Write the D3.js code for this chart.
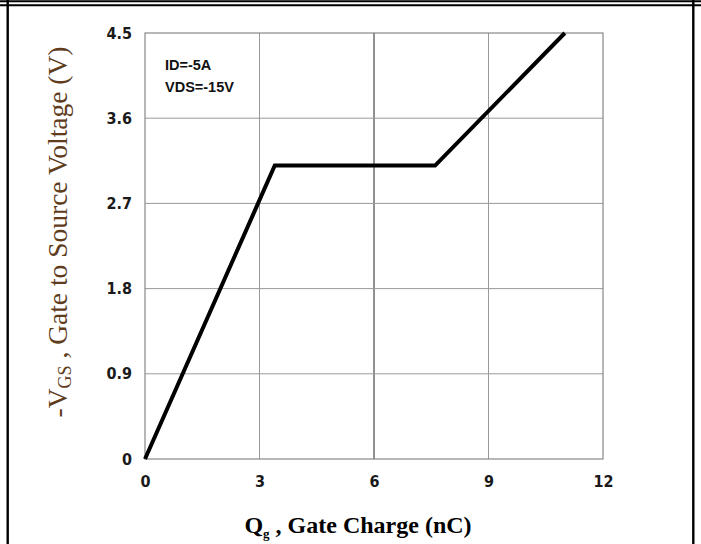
<!DOCTYPE html>
<html>
<head>
<meta charset="utf-8">
<script src="https://cdn.jsdelivr.net/npm/d3@7"></script>
<style>
  body { margin: 0; background: #fff; }
</style>
</head>
<body>
<svg class="chart"></svg>
<script>
// gate charge curve
var qg  = [0, 3.4, 7.6, 11.0];
var vgs = [0, 3.1, 3.1, 4.5];

var xTicks = [0, 3, 6, 9, 12];
var yTicks = [0, 0.9, 1.8, 2.7, 3.6, 4.5];
var notes = ["ID=-5A", "VDS=-15V"];

var W = 701, H = 544;
var margin = {top: 33, bottom: 85, left: 145, right: 98},
    width = W - margin.left - margin.right,
    height = H - margin.top - margin.bottom;

var narrow = "Liberation Sans Narrow, Arial Narrow, DejaVu Sans Condensed, sans-serif";
var sans = "Liberation Sans, Arial, sans-serif";

var root = d3.select(".chart").attr("width", W).attr("height", H);

// page frame: double rule on top, side rules
root.append("line").attr("x1", 0).attr("x2", W).attr("y1", 1.2).attr("y2", 1.2)
    .attr("stroke", "#000").attr("stroke-width", 2);
root.append("line").attr("x1", 0).attr("x2", W).attr("y1", 5.3).attr("y2", 5.3)
    .attr("stroke", "#000").attr("stroke-width", 2);
root.append("line").attr("x1", 7.7).attr("x2", 7.7).attr("y1", 0).attr("y2", H)
    .attr("stroke", "#000").attr("stroke-width", 2.4);
root.append("line").attr("x1", 693.3).attr("x2", 693.3).attr("y1", 0).attr("y2", H)
    .attr("stroke", "#000").attr("stroke-width", 2.4);

var svg = root.append("g")
    .attr("transform", "translate(" + margin.left + "," + margin.top + ")");

var x = d3.scaleLinear().domain([0, 12]).range([0, width]);
var y = d3.scaleLinear().domain([0, 4.5]).range([height, 0]);

// grid
svg.selectAll(".vgrid").data(xTicks.slice(1, -1)).enter()
    .append("line")
    .attr("x1", function(d) { return x(d); }).attr("x2", function(d) { return x(d); })
    .attr("y1", 0).attr("y2", height)
    .attr("stroke", function(d) { return d === 6 ? "#222" : "#999"; })
    .attr("stroke-width", 1);
svg.selectAll(".hgrid").data(yTicks.slice(1, -1)).enter()
    .append("line")
    .attr("x1", 0).attr("x2", width)
    .attr("y1", function(d) { return y(d); }).attr("y2", function(d) { return y(d); })
    .attr("stroke", "#999").attr("stroke-width", 1);

svg.append("rect")
    .attr("width", width).attr("height", height)
    .attr("fill", "none").attr("stroke", "#888").attr("stroke-width", 1.2);

// axes
var xAxis = svg.append("g")
    .attr("transform", "translate(0," + height + ")")
    .call(d3.axisBottom(x).tickValues(xTicks).tickSize(0).tickPadding(17));
xAxis.select(".domain").remove();

var yAxis = svg.append("g")
    .call(d3.axisLeft(y).tickValues(yTicks).tickSize(0).tickPadding(13)
        .tickFormat(function(d) { return d === 0 ? "0" : d3.format(".1f")(d); }));
yAxis.select(".domain").remove();

[xAxis, yAxis].forEach(function(a) {
    a.attr("font-family", narrow).attr("font-size", 16).attr("font-weight", "bold");
    a.selectAll("text").attr("fill", "#1a1a1a");
});

// curve
var line = d3.line()
    .x(function(d) { return x(d[0]); })
    .y(function(d) { return y(d[1]); });
svg.append("path")
    .datum(d3.zip(qg, vgs))
    .attr("d", line)
    .attr("fill", "none")
    .attr("stroke", "#000")
    .attr("stroke-width", 4)
    .attr("stroke-linejoin", "miter");

// conditions
svg.selectAll(".note").data(notes).enter()
    .append("text")
    .attr("x", 20)
    .attr("y", function(d, i) { return 37 + i * 22; })
    .attr("font-family", sans)
    .attr("font-weight", "bold")
    .attr("font-size", "14.5px")
    .attr("fill", "#111")
    .text(function(d) { return d; });

// axis titles
var xt = root.append("text")
    .attr("x", 358).attr("y", 533)
    .attr("text-anchor", "middle")
    .attr("font-family", "Liberation Serif, Times New Roman, serif")
    .attr("font-weight", "bold")
    .attr("font-size", "24px")
    .attr("fill", "#000");
xt.append("tspan").text("Q");
xt.append("tspan").attr("font-size", "13px").attr("dy", 5).text("g");
xt.append("tspan").attr("dy", -5).text(" , Gate Charge (nC)");

var yt = root.append("text")
    .attr("transform", "translate(67,232) rotate(-90)")
    .attr("text-anchor", "middle")
    .attr("font-family", "Liberation Serif, Times New Roman, serif")
    .attr("font-size", "27.5px")
    .attr("fill", "#5e3c1c");
yt.append("tspan").text("-V");
yt.append("tspan").attr("font-size", "18px").attr("dy", 4).text("GS");
yt.append("tspan").attr("dy", -4).text(" , Gate to Source Voltage (V)");
</script>
</body>
</html>
